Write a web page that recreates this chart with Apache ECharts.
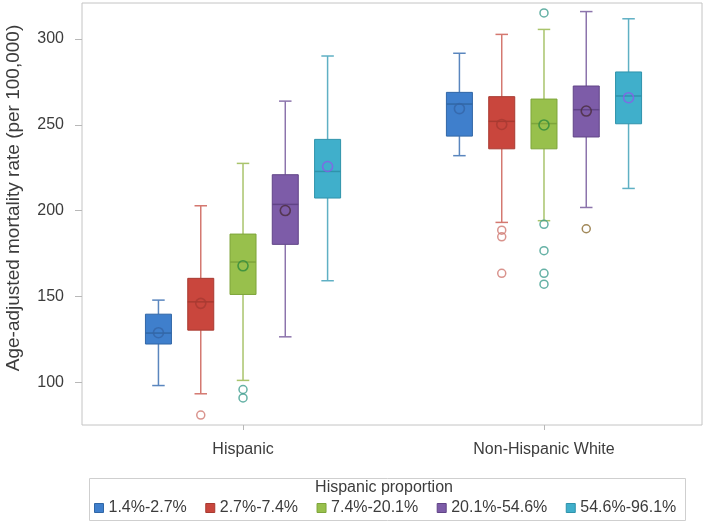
<!DOCTYPE html>
<html>
<head>
<meta charset="utf-8">
<style>
  html, body { margin: 0; padding: 0; background: #ffffff; }
  #chart { width: 709px; height: 523px; }
</style>
<script src="https://cdn.jsdelivr.net/npm/echarts@6.0.0/dist/echarts.min.js"></script>
</head>
<body>
<div id="chart"></div>
<script>
// ---------------- data ----------------
const groups = ['Hispanic', 'Non-Hispanic White'];
const proportions = ['1.4%-2.7%', '2.7%-7.4%', '7.4%-20.1%', '20.1%-54.6%', '54.6%-96.1%'];
const yTicks = [100, 150, 200, 250, 300];

// [min, Q1, median, Q3, max] per proportion group
const hispanicBoxes = [
  [98, 122.2, 128.6, 139.6, 147.8],
  [93.2, 130.3, 146.8, 160.5, 202.8],
  [101, 151.1, 170, 186.3, 227.5],
  [126.4, 180.3, 203.6, 220.9, 263.8],
  [159.1, 207.3, 222.8, 241.5, 290.1]
];
const nhwBoxes = [
  [232, 243.4, 262.1, 268.9, 291.7],
  [193.1, 236, 252, 266.4, 302.7],
  [194.1, 236, 250.7, 265, 305.6],
  [201.8, 242.9, 258.8, 272.6, 316],
  [212.9, 250.6, 266.8, 280.8, 311.8]
];
const hispanicMeans = [128.8, 145.9, 167.8, 200, 225.7];
const nhwMeans = [259.4, 250.2, 249.9, 258, 265.8];
const hispanicOutliers = [[], [80.8], [95.7, 90.8], [], []];
const nhwOutliers = [[], [188.6, 184.7, 163.4], [315.2, 192, 176.6, 163.4, 157.1], [189.4], []];

// ---------------- styles ----------------
const fillColors    = ['#3f7fcc', '#c9463d', '#98c04c', '#7d5ca8', '#40afcb'];
const edgeColors    = ['#3167a6', '#a83a31', '#7ea53b', '#614487', '#2f93ab'];
const whiskerColors = ['#5a86be', '#d47870', '#a9c46c', '#8c74ac', '#5fb0c4'];
const meanColors    = ['#3565a8', '#a83a32', '#2e8a3c', '#4a2d3c', '#8a5ce8'];
const outlierColors = ['#5a86be', '#d07870', '#3f9e8e', '#8a6a30', '#5fb0c4'];

const boxOffsets = [-0.281, -0.1404, 0, 0.1404, 0.281]; // layout within a group (axis units)
const BOX_W = 0.0864;                                  // box width in axis units
const FONT = 'Liberation Sans, Arial, sans-serif';
const TEXT = '#3c3c3c';

function makeBoxRenderer(idx) {
  return function (params, api) {
    const x = api.value(0) + boxOffsets[idx];
    const lo = api.coord([x, api.value(1)]);
    const q1 = api.coord([x, api.value(2)]);
    const md = api.coord([x, api.value(3)]);
    const q3 = api.coord([x, api.value(4)]);
    const hi = api.coord([x, api.value(5)]);
    const bw = api.size([BOX_W, 0])[0];
    const cx = lo[0];
    const half = bw / 2;
    const cap = bw * 0.24;
    const wStyle = { stroke: whiskerColors[idx], lineWidth: 1.5 };
    return {
      type: 'group',
      children: [
        { type: 'line', shape: { x1: cx, y1: lo[1], x2: cx, y2: q1[1] }, style: wStyle },
        { type: 'line', shape: { x1: cx, y1: q3[1], x2: cx, y2: hi[1] }, style: wStyle },
        { type: 'line', shape: { x1: cx - cap, y1: lo[1], x2: cx + cap, y2: lo[1] }, style: wStyle },
        { type: 'line', shape: { x1: cx - cap, y1: hi[1], x2: cx + cap, y2: hi[1] }, style: wStyle },
        { type: 'rect', shape: { x: cx - half, y: q3[1], width: bw, height: q1[1] - q3[1] },
          style: { fill: fillColors[idx], stroke: edgeColors[idx], lineWidth: 1 } },
        { type: 'line', shape: { x1: cx - half, y1: md[1], x2: cx + half, y2: md[1] },
          style: { stroke: edgeColors[idx], lineWidth: 1.5 } }
      ]
    };
  };
}

const series = [];
proportions.forEach(function (name, i) {
  series.push({
    name: name,
    type: 'custom',
    renderItem: makeBoxRenderer(i),
    itemStyle: { color: fillColors[i] },
    encode: { x: 0, y: [1, 2, 3, 4, 5] },
    data: [[0].concat(hispanicBoxes[i]), [1].concat(nhwBoxes[i])],
    z: 2
  });
});
proportions.forEach(function (name, i) {
  series.push({
    name: name,
    type: 'scatter',
    symbol: 'circle',
    symbolSize: 10,
    itemStyle: { color: 'rgba(0,0,0,0)', borderColor: meanColors[i], borderWidth: 1.6 },
    data: [[0 + boxOffsets[i], hispanicMeans[i]], [1 + boxOffsets[i], nhwMeans[i]]],
    z: 4
  });
  const out = [];
  hispanicOutliers[i].forEach(function (v) { out.push([0 + boxOffsets[i], v]); });
  nhwOutliers[i].forEach(function (v) { out.push([1 + boxOffsets[i], v]); });
  series.push({
    name: name,
    type: 'scatter',
    symbol: 'circle',
    symbolSize: 8,
    itemStyle: { color: 'rgba(0,0,0,0)', borderColor: outlierColors[i], borderWidth: 1.5 },
    data: out,
    z: 4
  });
});

const chart = echarts.init(document.getElementById('chart'), null, { renderer: 'canvas' });
chart.setOption({
  animation: false,
  backgroundColor: '#ffffff',
  textStyle: { fontFamily: FONT },
  grid: {
    left: 82, right: 7, top: 3, bottom: 98,
    containLabel: false,
    outerBoundsMode: 'none',
    show: true, borderColor: '#c4c4c4', borderWidth: 1, backgroundColor: 'transparent'
  },
  xAxis: {
    type: 'value',
    min: -0.535, max: 1.525,
    splitLine: { show: false },
    axisLine: { show: false, onZero: false },
    axisTick: { show: true, length: 5, lineStyle: { color: '#b8b8b8' }, customValues: [0, 1] },
    axisLabel: {
      customValues: [0, 1],
      margin: 17,
      fontSize: 16, color: TEXT, fontFamily: FONT,
      formatter: function (v) { return groups[Math.round(v)]; }
    }
  },
  yAxis: {
    type: 'value',
    min: 75, max: 321,
    name: 'Age-adjusted mortality rate (per 100,000)',
    nameLocation: 'middle',
    nameGap: 59,
    nameTextStyle: { fontSize: 19, color: TEXT, fontFamily: FONT, padding: [0, 0, 0, 32] },
    splitLine: { show: false },
    axisLine: { show: false, onZero: false },
    axisTick: { show: true, length: 7, lineStyle: { color: '#b8b8b8' }, customValues: yTicks },
    axisLabel: { customValues: yTicks, margin: 18, fontSize: 16, color: TEXT, fontFamily: FONT }
  },
  legend: {
    left: 94, top: 500,
    padding: 0,
    itemGap: 18.5,
    itemWidth: 9, itemHeight: 9,
    icon: 'rect',
    textStyle: { fontSize: 16, color: TEXT, fontFamily: FONT },
    data: proportions.map(function (n, i) {
      return { name: n, icon: 'rect', itemStyle: { color: fillColors[i], borderColor: edgeColors[i], borderWidth: 1 } };
    })
  },
  graphic: [
    { type: 'rect', left: 87, top: 476, shape: { width: 596, height: 42 },
      style: { fill: 'none', stroke: '#cfcfcf', lineWidth: 1 }, z: -1 },
    { type: 'text', x: 384, y: 488,
      style: { text: 'Hispanic proportion', fontSize: 16, fill: TEXT, fontFamily: FONT,
               textAlign: 'center', textVerticalAlign: 'middle' } }
  ],
  series: series
});
</script>
</body>
</html>
